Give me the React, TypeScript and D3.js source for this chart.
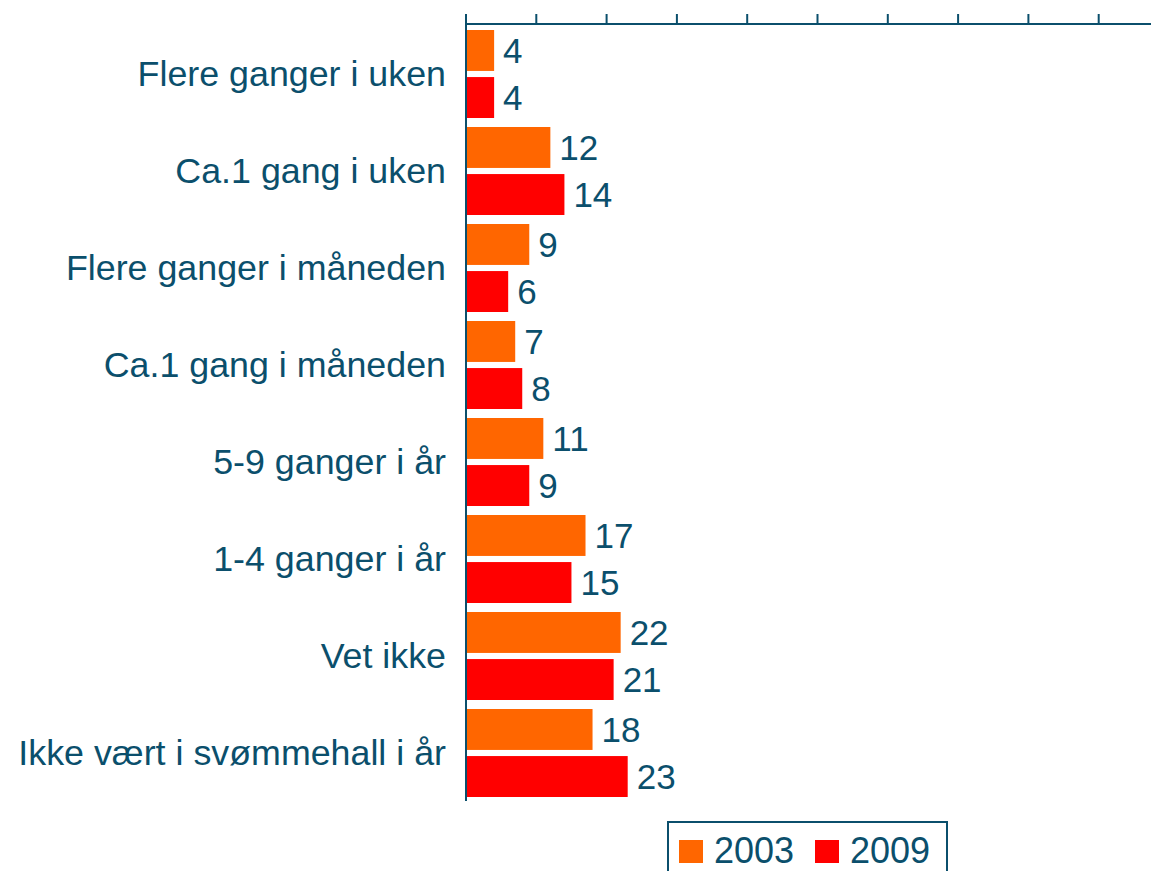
import * as d3 from "d3";
import React, { useEffect, useRef } from "react";

const categories = [
  "Flere ganger i uken",
  "Ca.1 gang i uken",
  "Flere ganger i måneden",
  "Ca.1 gang i måneden",
  "5-9 ganger i år",
  "1-4 ganger i år",
  "Vet ikke",
  "Ikke vært i svømmehall i år",
];
const years = ["2003", "2009"];
const values2003 = [4, 12, 9, 7, 11, 17, 22, 18];
const values2009 = [4, 14, 6, 8, 9, 15, 21, 23];
const tickValues = [0, 10, 20, 30, 40, 50, 60, 70, 80, 90, 100];

const colors = ["#FF6600", "#FF0000"];
const ink = "#0B4F6C";

export default function App() {
  const ref = useRef<SVGSVGElement>(null);

  useEffect(() => {
    const width = 1151;
    const height = 871;
    const svg = d3.select(ref.current).attr("width", width).attr("height", height);
    svg.selectAll("*").remove();

    const x = d3.scaleLinear().domain([0, 100]).range([466, 466 + 703]);
    const y = d3.scaleBand().domain(categories).range([24, 800]);
    const inner = d3
      .scaleBand()
      .domain(years)
      .range([6, y.bandwidth() - 3])
      .paddingInner(0.13);

    const font = "'Liberation Sans', Arial, Helvetica, sans-serif";

    const rows = categories.map((c, i) => ({
      cat: c,
      vals: [values2003[i], values2009[i]],
    }));

    const g = svg.append("g");
    const groups = g
      .selectAll("g.cat")
      .data(rows)
      .join("g")
      .attr("class", "cat")
      .attr("transform", (d) => `translate(0,${y(d.cat)})`);

    groups
      .selectAll("rect")
      .data((d) => d.vals.map((v, j) => ({ v, year: years[j], j })))
      .join("rect")
      .attr("x", x(0))
      .attr("y", (d) => inner(d.year)!)
      .attr("width", (d) => x(d.v) - x(0))
      .attr("height", inner.bandwidth())
      .attr("fill", (d) => colors[d.j]);

    groups
      .selectAll("text.val")
      .data((d) => d.vals.map((v, j) => ({ v, year: years[j] })))
      .join("text")
      .attr("class", "val")
      .attr("x", (d) => x(d.v) + 9)
      .attr("y", (d) => inner(d.year)! + inner.bandwidth() / 2)
      .attr("dy", "0.37em")
      .attr("fill", ink)
      .style("font-family", font)
      .style("font-size", "35px")
      .text((d) => d.v);

    groups
      .append("text")
      .attr("x", 446)
      .attr("y", y.bandwidth() / 2)
      .attr("dy", "0.38em")
      .attr("text-anchor", "end")
      .attr("fill", ink)
      .style("font-family", font)
      .style("font-size", "35.8px")
      .text((d) => d.cat);

    // top axis
    const axis = svg.append("g").attr("transform", `translate(0,24)`);
    axis
      .append("line")
      .attr("x1", x(0))
      .attr("x2", width)
      .attr("stroke", ink)
      .attr("stroke-width", 2);
    axis
      .selectAll("line.tick")
      .data(tickValues)
      .join("line")
      .attr("class", "tick")
      .attr("x1", (d) => x(d))
      .attr("x2", (d) => x(d))
      .attr("y1", -10)
      .attr("y2", 0)
      .attr("stroke", ink)
      .attr("stroke-width", 2);

    // category axis
    svg
      .append("line")
      .attr("x1", x(0))
      .attr("x2", x(0))
      .attr("y1", 14)
      .attr("y2", 801)
      .attr("stroke", ink)
      .attr("stroke-width", 2);

    // legend (cut off at the bottom, as in the original)
    const leg = svg.append("g").attr("transform", "translate(668,822)");
    leg
      .append("rect")
      .attr("width", 279)
      .attr("height", 70)
      .attr("fill", "white")
      .attr("stroke", ink)
      .attr("stroke-width", 2);
    const items = leg
      .selectAll("g.item")
      .data(years)
      .join("g")
      .attr("class", "item")
      .attr("transform", (d, i) => `translate(${11 + i * 136},18)`);
    items
      .append("rect")
      .attr("width", 24)
      .attr("height", 23)
      .attr("fill", (d, i) => colors[i]);
    items
      .append("text")
      .attr("x", 35)
      .attr("y", 23)
      .attr("fill", ink)
      .style("font-family", font)
      .style("font-size", "36px")
      .text((d) => d);
  }, []);

  return (
    <div style={{ position: "absolute", left: 0, top: 0 }}>
      <svg ref={ref} style={{ display: "block" }}></svg>
    </div>
  );
}
